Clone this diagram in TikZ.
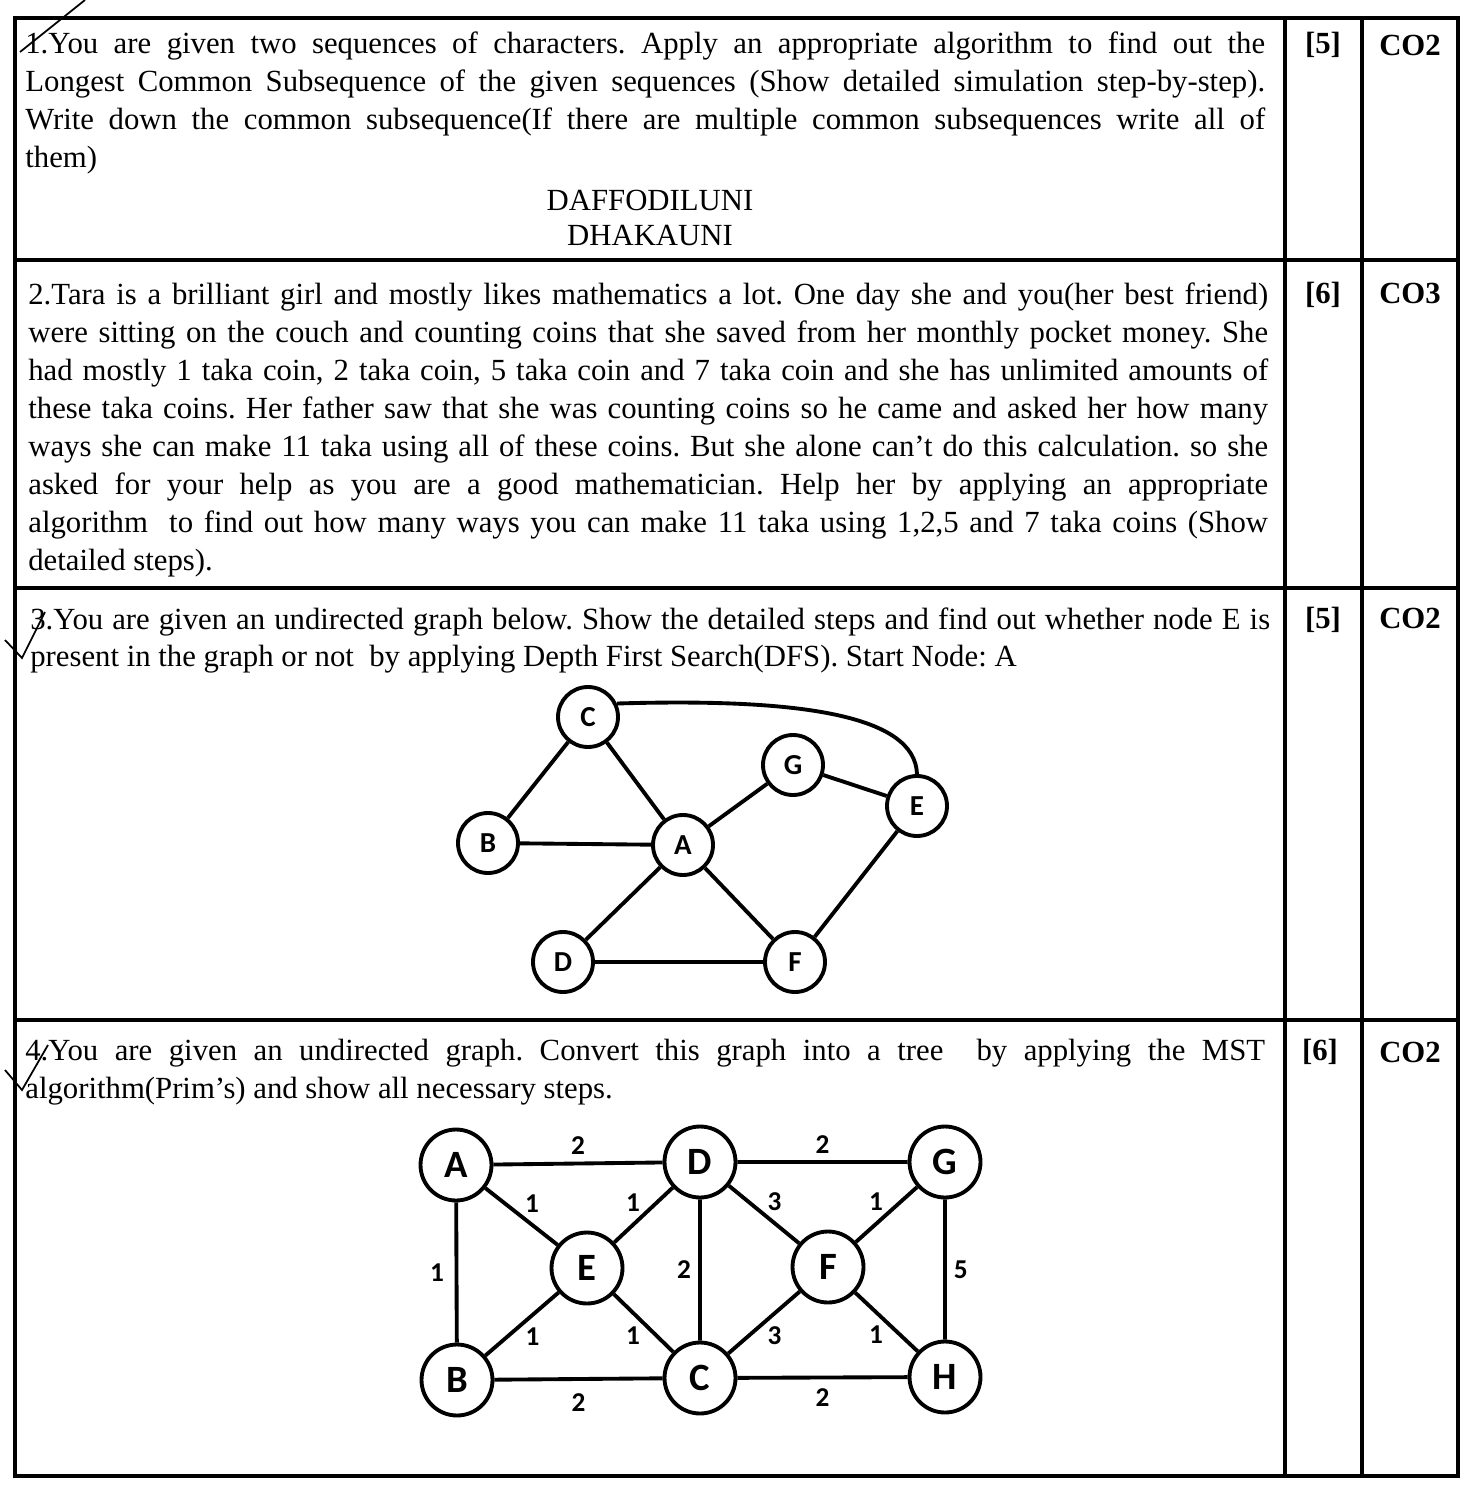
\documentclass[tikz,border=0pt]{standalone}
\usepackage{fontspec}
\setmainfont{Liberation Serif}
\newfontfamily\graphfont{Carlito}
\frenchspacing
\tikzset{
  vert/.style={circle,draw,line width=2.2pt,minimum size=1.2cm,inner sep=0pt,font=\graphfont\bfseries\fontsize{16.5}{16.5}\selectfont},
  bigvert/.style={vert,minimum size=1.42cm,font=\graphfont\bfseries\fontsize{22}{22}\selectfont},
  wt/.style={font=\graphfont\bfseries\fontsize{15.5}{15.5}\selectfont,inner sep=1pt},
  qbody/.style={anchor=north west,inner sep=0pt,text width=24.8cm,align=justify,font=\fontsize{17.5}{21.6}\selectfont},
  tag/.style={font=\fontsize{17.5}{17.5}\selectfont\bfseries},
  rule/.style={line width=2pt}
}
\begin{document}
\begin{tikzpicture}[x=0.02cm,y=-0.02cm]
\useasboundingbox (0,0) rectangle (1468,1486);
\draw[rule] (15,18) rectangle (1458,1476);
\draw[rule] (15,260) -- (1458,260);
\draw[rule] (15,588) -- (1458,588);
\draw[rule] (15,1020) -- (1458,1020);
\draw[rule] (1285,18) -- (1285,1476);
\draw[rule] (1362,18) -- (1362,1476);
\draw[line width=1pt] (20,52) -- (85,0);
\draw[line width=1pt] (5,640) -- (22,658) -- (45,612);
\draw[line width=1pt] (5,1070) -- (22,1090) -- (48,1045);

\node[qbody] (q1) at (25,32) {1.You are given two sequences of characters. Apply an appropriate algorithm to find out the\linebreak Longest Common Subsequence of the given sequences (Show detailed simulation step-by-step).\linebreak Write down the common subsequence(If there are multiple common subsequences write all of\linebreak them)};
\node[font=\fontsize{17.5}{17.5}\selectfont] (s1) at (650,200) {DAFFODILUNI};
\node[font=\fontsize{17.5}{17.5}\selectfont] (s2) at (650,236) {DHAKAUNI};
\node[tag] (m1) at (1323,45) {[5]};
\node[tag] (c1) at (1410,45) {CO2};

\node[qbody] (q2) at (28,283) {2.Tara is a brilliant girl and mostly likes mathematics a lot. One day she and you(her best friend)\linebreak were sitting on the couch and counting coins that she saved from her monthly pocket money. She\linebreak had mostly 1 taka coin, 2 taka coin, 5 taka coin and 7 taka coin and she has unlimited amounts of\linebreak these taka coins. Her father saw that she was counting coins so he came and asked her how many\linebreak ways she can make 11 taka using all of these coins. But she alone can't do this calculation. so she\linebreak asked for your help as you are a good mathematician. Help her by applying an appropriate\linebreak algorithm\ \ to find out how many ways you can make 11 taka using 1,2,5 and 7 taka coins (Show\linebreak detailed steps).};
\node[tag] (m2) at (1323,295) {[6]};
\node[tag] (c2) at (1410,293) {CO3};

\node[qbody] (q3) at (30,607) {3.You are given an undirected graph below. Show the detailed steps and find out whether node E is\linebreak present in the graph or not\ \ by applying Depth First Search(DFS). Start Node: A};
\node[tag] (m3) at (1323,620) {[5]};
\node[tag] (c3) at (1410,618) {CO2};

\node[vert] (C) at (588,717) {C};
\node[vert] (G) at (793,765) {G};
\node[vert] (E) at (917,806) {E};
\node[vert] (B) at (488,843) {B};
\node[vert] (A) at (683,845) {A};
\node[vert] (D) at (563,962) {D};
\node[vert] (F) at (795,962) {F};
\draw[line width=2.2pt] (C) -- (B) (C) -- (A) (B) -- (A) (A) -- (G) (G) -- (E)
  (A) -- (D) (A) -- (F) (D) -- (F) (E) -- (F);
\draw[line width=2.2pt] (C.25) .. controls (800,698) and (915,715) .. (E.north);

\node[qbody] (q4) at (25,1039) {4.You are given an undirected graph. Convert this graph into a tree\ \ by applying the MST\linebreak algorithm(Prim's) and show all necessary steps.};
\node[tag] (m4) at (1320,1052) {[6]};
\node[tag] (c4) at (1410,1052) {CO2};

\node[bigvert] (a) at (456,1165) {A};
\node[bigvert] (d) at (700,1162) {D};
\node[bigvert] (g) at (945,1162) {G};
\node[bigvert] (e) at (587,1268) {E};
\node[bigvert] (f) at (828,1267) {F};
\node[bigvert] (b) at (457,1380) {B};
\node[bigvert] (c) at (700,1378) {C};
\node[bigvert] (h) at (945,1377) {H};
\draw[line width=2.2pt]
  (a) -- node[wt,above=3pt] {2} (d)
  (d) -- node[wt,above=3pt] {2} (g)
  (a) -- node[wt,above right=0pt] {1} (e)
  (e) -- node[wt,above left=0pt] {1} (d)
  (d) -- node[wt,above right=0pt] {3} (f)
  (f) -- node[wt,above left=0pt] {1} (g)
  (a) -- node[wt,left=5pt] {1} (b)
  (d) -- node[wt,left=3pt] {2} (c)
  (g) -- node[wt,right=3pt] {5} (h)
  (b) -- node[wt,below right=0pt] {1} (e)
  (e) -- node[wt,below left=0pt] {1} (c)
  (c) -- node[wt,below right=0pt] {3} (f)
  (f) -- node[wt,below left=0pt] {1} (h)
  (b) -- node[wt,below=6pt] {2} (c)
  (c) -- node[wt,below=4pt] {2} (h);
\end{tikzpicture}
\end{document}
